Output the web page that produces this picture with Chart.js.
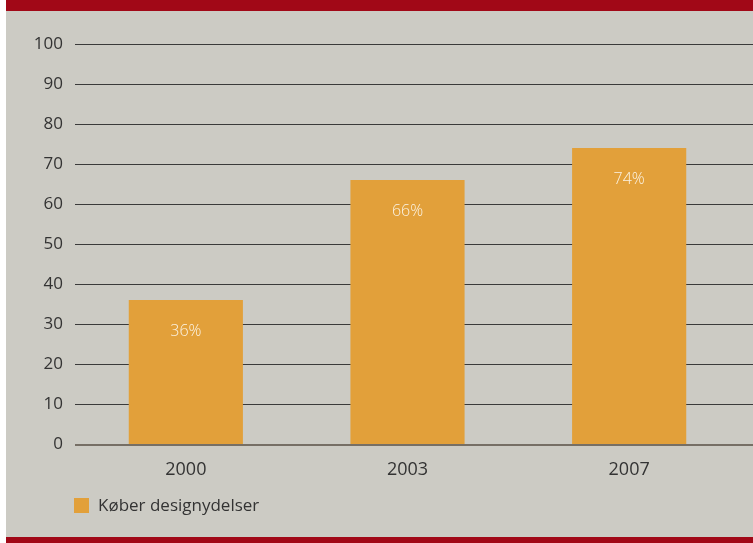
<!DOCTYPE html>
<html>
<head>
<meta charset="utf-8">
<script src="https://cdn.jsdelivr.net/npm/chart.js@4/dist/chart.umd.min.js"></script>
<style>
  html, body { margin: 0; padding: 0; background: #fff; }
  #frame {
    position: absolute; left: 6px; top: 0; width: 747px; height: 543px;
    background: #cccbc4;
  }
  .band { position: absolute; left: 0; width: 747px; background: #a10817; }
  #bandTop { top: 0; height: 11px; }
  #bandBottom { top: 537px; height: 6px; }
  #wrap { position: absolute; left: 0; top: 11px; width: 747px; height: 526px; }
  #legend {
    position: absolute; left: 68px; top: 494px;
    font: 400 17px "Open Sans", "Noto Sans", sans-serif; color: #333;
    display: flex; align-items: center; line-height: 22px;
  }
  #legend .swatch {
    display: inline-block; width: 15px; height: 15px;
    background: #e2a03a; margin-right: 9px;
  }
</style>
</head>
<body>
<div id="frame">
  <div class="band" id="bandTop"></div>
  <div id="wrap"><canvas id="designChart"></canvas></div>
  <div id="legend"><span class="swatch"></span><span id="legendText"></span></div>
  <div class="band" id="bandBottom"></div>
</div>
<script>
const years = ['2000', '2003', '2007'];
const buyingDesign = [36, 66, 74];
const yTicks = [0, 10, 20, 30, 40, 50, 60, 70, 80, 90, 100];
const seriesLabel = 'Køber designydelser';

const fontFamily = '"Open Sans", "Noto Sans", sans-serif';
const textColor = '#333333';

document.getElementById('legendText').textContent = seriesLabel;

// horizontal rules run past the plot area to the right edge
const gridLines = {
    id: 'gridLines',
    beforeDatasetsDraw(chart) {
        const ctx = chart.ctx;
        const y = chart.scales.y;
        ctx.save();
        y.ticks.forEach(t => {
            if (t.value === 0) return;
            const py = Math.round(y.getPixelForValue(t.value)) + 0.5;
            ctx.strokeStyle = '#3a3a3a';
            ctx.lineWidth = 1;
            ctx.beginPath();
            ctx.moveTo(chart.chartArea.left, py);
            ctx.lineTo(chart.width, py);
            ctx.stroke();
        });
        ctx.restore();
    },
    afterDatasetsDraw(chart) {
        const ctx = chart.ctx;
        const y = chart.scales.y;
        const py = Math.round(y.getPixelForValue(0)) + 1;
        ctx.save();
        ctx.strokeStyle = 'rgba(90, 80, 70, 0.75)';
        ctx.lineWidth = 2;
        ctx.beginPath();
        ctx.moveTo(chart.chartArea.left, py);
        ctx.lineTo(chart.width, py);
        ctx.stroke();
        ctx.restore();
    }
};

// percentage labels near the top of each bar
const barLabels = {
    id: 'barLabels',
    afterDatasetsDraw(chart) {
        const ctx = chart.ctx;
        const meta = chart.getDatasetMeta(0);
        ctx.save();
        ctx.fillStyle = '#fbf3e4';
        ctx.font = '300 16px ' + fontFamily;
        ctx.textAlign = 'center';
        ctx.textBaseline = 'middle';
        meta.data.forEach((bar, i) => {
            ctx.fillText(buyingDesign[i] + '%', bar.x, bar.y + 31);
        });
        ctx.restore();
    }
};

new Chart(document.getElementById('designChart'), {
    type: 'bar',
    data: {
        labels: years,
        datasets: [{
            label: seriesLabel,
            data: buyingDesign,
            backgroundColor: '#e2a03a',
            borderWidth: 0,
            barPercentage: 1,
            categoryPercentage: 0.515
        }]
    },
    options: {
        responsive: true,
        maintainAspectRatio: false,
        animation: false,
        layout: { padding: { top: 33, right: 13, left: 0, bottom: 53 } },
        scales: {
            y: {
                min: 0,
                max: 100,
                afterBuildTicks(scale) {
                    scale.ticks = yTicks.map(v => ({ value: v }));
                },
                afterFit(scale) { scale.width = 69; },
                grid: { display: false, drawTicks: false },
                border: { display: false },
                ticks: {
                    color: textColor,
                    padding: 12,
                    font: { family: fontFamily, size: 17, weight: 400 }
                }
            },
            x: {
                afterFit(scale) { scale.height = 40; },
                grid: { display: false, drawTicks: false },
                border: { display: false },
                ticks: {
                    color: textColor,
                    padding: 15,
                    font: { family: fontFamily, size: 18, weight: 400 }
                }
            }
        },
        plugins: {
            legend: { display: false },
            tooltip: { enabled: false }
        }
    },
    plugins: [gridLines, barLabels]
});
</script>
</body>
</html>
